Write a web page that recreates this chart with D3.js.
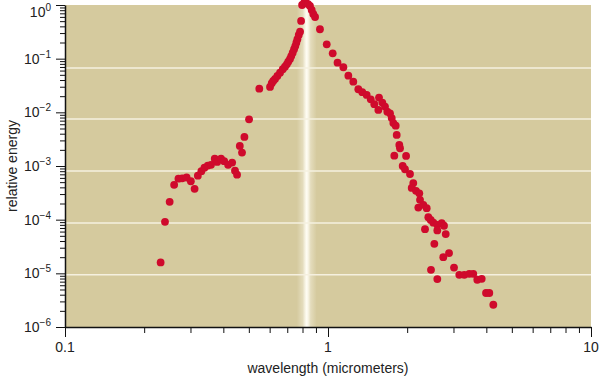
<!DOCTYPE html>
<html><head><meta charset="utf-8">
<script src="https://cdn.jsdelivr.net/npm/d3@7"></script>
<style>body{margin:0;background:#fff}svg{display:block;font-family:"Liberation Sans",Arial,Helvetica,sans-serif}</style>
</head><body><svg id="c" width="600" height="378"></svg>
<script>
// wavelength in micrometers
const wavelength = [
0.231,0.240,0.250,0.260,0.270,0.279,0.290,0.301,0.311,0.320,0.330,0.339,0.349,0.359,0.371,0.379,0.392,0.403,0.417,0.432,0.443,0.451,0.462,0.471,0.481,0.501,0.548,0.602,
0.611,0.619,0.629,0.642,0.657,0.673,0.686,0.697,0.706,0.717,0.725,0.734,0.743,0.751,0.758,0.765,0.774,0.783,0.790,
0.797,0.811,0.825,0.840,0.854,0.867,0.879,0.893,
0.932,0.989,1.042,1.087,1.144,1.195,1.248,1.304,1.350,1.403,1.454,1.500,1.563,1.609,1.647,1.554,1.681,1.721,1.747,1.772,1.809,1.825,1.867,1.879,1.787,1.981,
1.923,1.962,2.050,2.110,2.081,2.161,2.224,2.238,2.205,2.304,2.373,2.407,2.458,2.515,2.604,2.706,2.761,2.338,2.604,2.803,2.537,2.885,2.744,3.014,2.464,2.604,3.157,3.298,3.445,3.568,3.695,3.841,3.989,4.105,4.252
];
// relative energy
const energy = [
1.6e-5,9.1e-5,2.15e-4,4.45e-4,5.8e-4,5.9e-4,6.1e-4,5.2e-4,3.75e-4,6.6e-4,8.0e-4,9.3e-4,1.02e-3,1.05e-3,1.37e-3,1.19e-3,1.37e-3,1.23e-3,1.05e-3,1.16e-3,8.2e-4,6.9e-4,2.37e-3,1.78e-3,3.48e-3,7.4e-3,2.76e-2,2.97e-2,
3.48e-2,3.84e-2,4.19e-2,4.76e-2,5.49e-2,6.35e-2,7.1e-2,7.86e-2,8.79e-2,9.87e-2,0.112,0.129,0.150,0.172,0.199,0.230,0.276,0.318,0.504,
1.0,1.09,1.09,1.04,0.958,0.807,0.68,0.598,
0.353,0.185,0.126,0.0842,0.0692,0.0482,0.0373,0.0269,0.0237,0.0211,0.0175,0.0142,0.0188,0.0152,0.0128,0.0111,0.0103,9.6e-3,7.8e-3,6.3e-3,5.65e-3,3.8e-3,2.47e-3,2.14e-3,1.56e-3,1.54e-3,
1.0e-3,8.7e-4,7.1e-4,4.8e-4,3.9e-4,3.44e-4,3.1e-4,2.34e-4,1.68e-4,1.89e-4,1.64e-4,1.11e-4,9.9e-5,8.8e-5,8.0e-5,8.6e-5,7.7e-5,6.65e-5,6.3e-5,5.4e-5,3.54e-5,2.38e-5,2.0e-5,1.28e-5,1.16e-5,7.8e-6,9.4e-6,9.4e-6,9.8e-6,9.8e-6,7.6e-6,7.9e-6,4.3e-6,4.3e-6,2.6e-6
];
const xTickValues = [0.1, 1, 10];
const xTickLabels = ["0.1", "1", "10"];
const xMinor = [0.2,0.3,0.4,0.5,0.6,0.7,0.8,0.9,2,3,4,5,6,7,8,9];
const yTickExponents = [0, -1, -2, -3, -4, -5, -6];
const yTickValues = yTickExponents.map(e => Math.pow(10, e));
// white guide lines as they sit in the picture (slightly below the decades)
const gridLevels = [6.7e-2, 7.5e-3, 8.1e-4, 8.7e-5, 9.4e-6];
const glowWavelength = 0.83;
const xTitle = "wavelength (micrometers)";
const yTitle = "relative energy";

const svg = d3.select("#c");
const X0 = 65, X1 = 591, Y0 = 5, Y1 = 327;
const x = d3.scaleLog().domain([0.1, 10]).range([X0, X1]);
const y = d3.scaleLog().domain([1e-6, 1]).range([Y1, Y0]);

const yMinor = [];
for (let e = -6; e < 0; e++) for (let k = 2; k <= 9; k++) yMinor.push(k * Math.pow(10, e));

// background
svg.append("rect").attr("x", X0).attr("y", Y0).attr("width", X1 - X0).attr("height", Y1 - Y0).attr("fill", "#d5ca9e");

// glow band
const defs = svg.append("defs");
const g = defs.append("linearGradient").attr("id", "glow").attr("x1", "0").attr("x2", "1").attr("y1", "0").attr("y2", "0");
[[0, 0], [0.3, 0.35], [0.42, 0.8], [0.5, 1], [0.58, 0.8], [0.7, 0.35], [1, 0]].forEach(([o, a]) =>
  g.append("stop").attr("offset", o).attr("stop-color", "#fffdf4").attr("stop-opacity", a));
const gc = x(glowWavelength);
svg.append("rect").attr("x", gc - 10).attr("y", Y0).attr("width", 20).attr("height", Y1 - Y0).attr("fill", "url(#glow)");

// gridlines
svg.append("g").selectAll("line").data(gridLevels).join("line")
  .attr("x1", X0).attr("x2", X1).attr("y1", d => y(d)).attr("y2", d => y(d))
  .attr("stroke", "#f5f0df").attr("stroke-width", 1.5);

// axes
const axStyle = sel => { sel.selectAll("path,line").attr("stroke", "#111"); sel.selectAll("text").remove(); };
svg.append("g").attr("transform", `translate(${X0},0)`)
  .call(d3.axisLeft(y).tickValues(yMinor).tickSize(5).tickSizeOuter(0)).call(axStyle)
  .select(".domain").attr("stroke-width", 1.5);
svg.append("g").attr("transform", `translate(${X0},0)`)
  .call(d3.axisLeft(y).tickValues(yTickValues).tickSize(9).tickSizeOuter(0)).call(axStyle)
  .select(".domain").remove();
svg.append("g").attr("transform", `translate(0,${Y1})`)
  .call(d3.axisBottom(x).tickValues(xMinor).tickSize(6).tickSizeOuter(0)).call(axStyle)
  .select(".domain").attr("stroke-width", 1.5);
svg.append("g").attr("transform", `translate(0,${Y1})`)
  .call(d3.axisBottom(x).tickValues(xTickValues).tickSize(10).tickSizeOuter(0)).call(axStyle)
  .select(".domain").remove();

// y tick labels with superscripts
yTickExponents.forEach((e, i) => {
  const yy = Math.max(y(yTickValues[i]) + 5, 17);
  const t = svg.append("text").attr("x", 51).attr("y", yy).attr("text-anchor", "end")
    .attr("font-size", 14).attr("fill", "#222");
  t.append("tspan").text("10");
  t.append("tspan").attr("dy", -6).attr("font-size", 10).text(e === 0 ? "0" : "\u2212" + Math.abs(e));
});
// x tick labels
svg.append("g").selectAll("text").data(xTickValues).join("text")
  .attr("x", d => x(d)).attr("y", 352).attr("text-anchor", "middle")
  .attr("font-size", 14).attr("fill", "#222").text((d, i) => xTickLabels[i]);

// titles
svg.append("text").attr("x", (X0 + X1) / 2).attr("y", 373).attr("text-anchor", "middle")
  .attr("font-size", 14).attr("fill", "#222").text(xTitle);
svg.append("text").attr("transform", `translate(17,${(Y0 + Y1) / 2}) rotate(-90)`).attr("text-anchor", "middle")
  .attr("font-size", 14).attr("fill", "#222").text(yTitle);

// points
svg.append("g").selectAll("circle").data(wavelength.map((w, i) => [w, energy[i]])).join("circle")
  .attr("cx", d => x(d[0])).attr("cy", d => y(d[1])).attr("r", 3.9).attr("fill", "#cf0a2c");
</script></body></html>
